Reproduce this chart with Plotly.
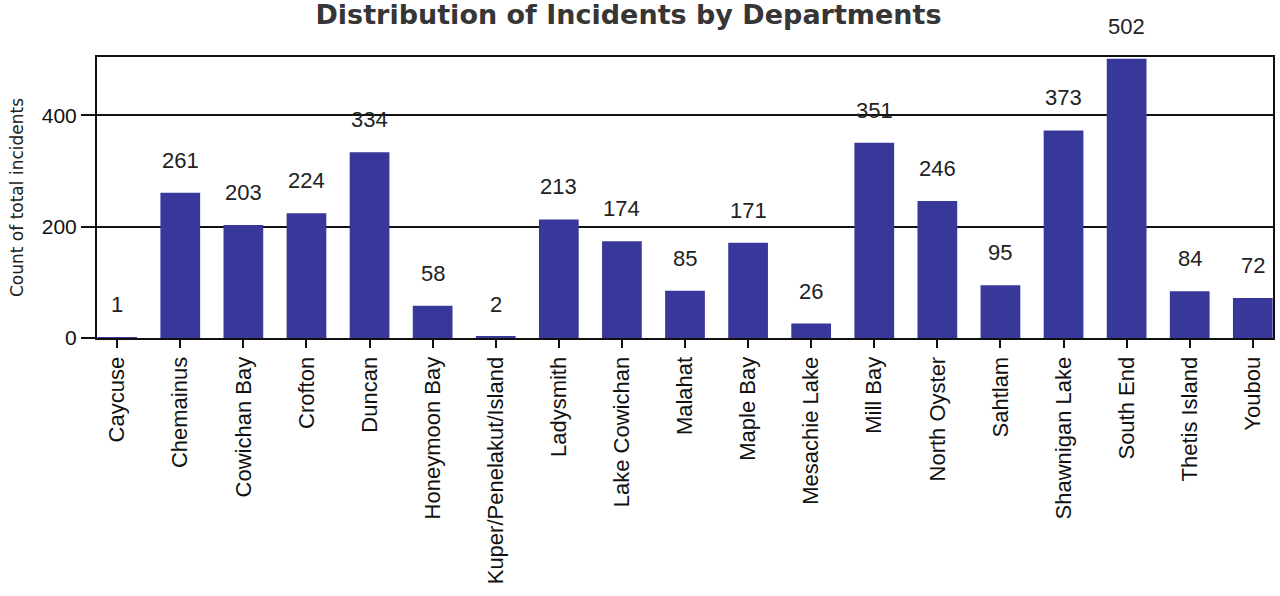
import plotly.graph_objects as go

# Incidents by department
departments = ["Caycuse", "Chemainus", "Cowichan Bay", "Crofton", "Duncan",
               "Honeymoon Bay", "Kuper/Penelakut/Island", "Ladysmith",
               "Lake Cowichan", "Malahat", "Maple Bay", "Mesachie Lake",
               "Mill Bay", "North Oyster", "Sahtlam", "Shawnigan Lake",
               "South End", "Thetis Island", "Youbou"]
counts = [1, 261, 203, 224, 334, 58, 2, 213, 174, 85, 171, 26,
          351, 246, 95, 373, 502, 84, 72]

y_ticks = [0, 200, 400]

fig = go.Figure()

fig.add_trace(go.Bar(
    x=departments, y=counts,
    marker=dict(color="#38389a", line=dict(width=0)),
    width=0.63,
    hoverinfo="x+y"
))

# value labels sit a bit above each bar
for d, c in zip(departments, counts):
    fig.add_annotation(
        x=d, y=c, text=str(c), showarrow=False,
        yanchor="bottom", yshift=18,
        font=dict(family="Liberation Sans, Arial", size=22, color="#222"),
    )

fig.update_layout(
    title=dict(
        text="<b>Distribution of Incidents by Departments</b>",
        font=dict(family="DejaVu Sans", size=27, color="#363636"),
        x=0.491, xanchor="center", y=0.975, yanchor="middle"
    ),
    xaxis=dict(
        range=[-0.32, 18.32],
        tickangle=-90,
        tickfont=dict(family="Liberation Sans, Arial", size=22, color="#111"),
        ticks="outside", ticklen=8, tickcolor="#111", tickwidth=2,
        showline=True, linecolor="#111", linewidth=2, mirror=True,
        showgrid=False
    ),
    yaxis=dict(
        range=[0, 505],
        tickvals=y_ticks,
        title=dict(text="Count of total incidents",
                   font=dict(family="DejaVu Sans", size=17, color="#222"),
                   standoff=14),
        tickfont=dict(family="Liberation Sans, Arial", size=21, color="#111"),
        ticks="outside", ticklen=14, tickcolor="#111", tickwidth=2,
        showline=True, linecolor="#111", linewidth=2, mirror=True,
        showgrid=True, gridcolor="#111", gridwidth=2,
        zeroline=False
    ),
    plot_bgcolor="white",
    paper_bgcolor="white",
    showlegend=False,
    width=1280, height=596,
    margin=dict(l=97, r=5, t=57, b=258)
)

# drop the browser's default page margin so the figure sits at 0,0
fig.write_html("out.html", config={"displayModeBar": False},
               post_script="document.body.style.margin='0px';")
